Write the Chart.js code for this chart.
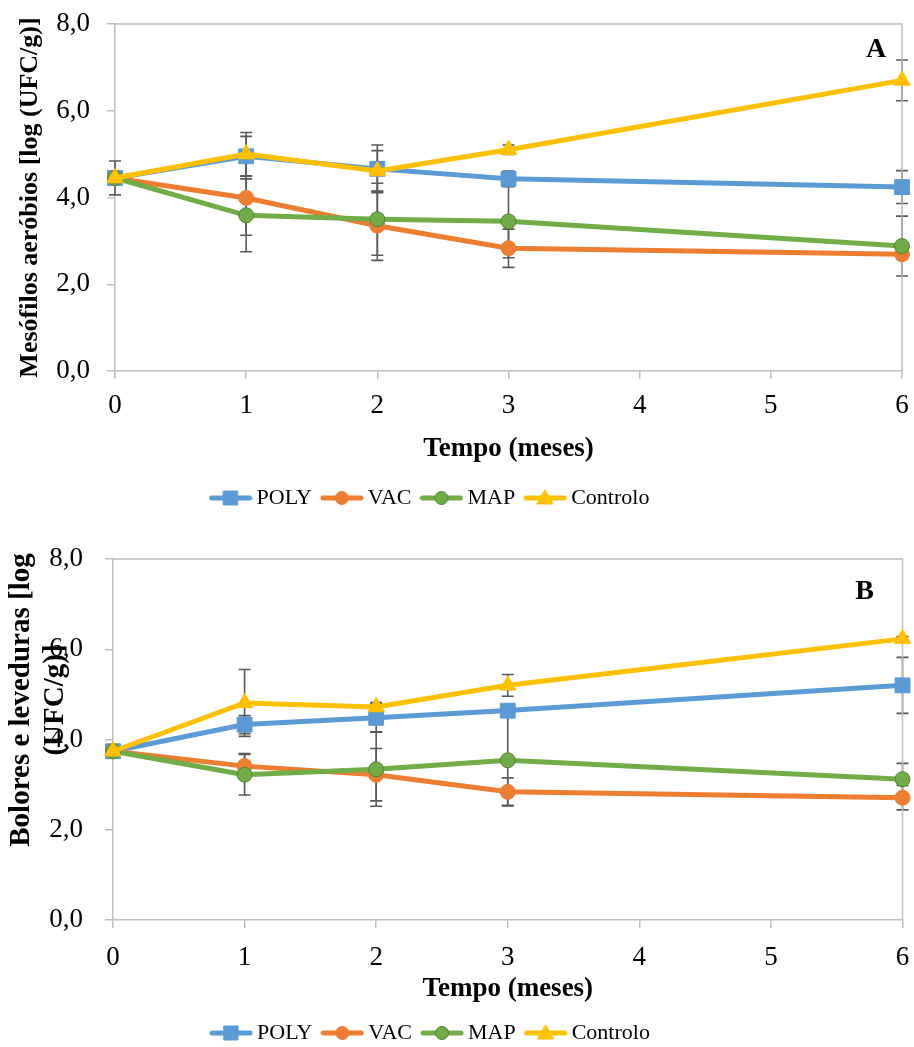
<!DOCTYPE html>
<html>
<head>
<meta charset="utf-8">
<script src="https://cdn.jsdelivr.net/npm/chart.js@4.4.0/dist/chart.umd.min.js"></script>
<style>
  html, body { margin: 0; padding: 0; background: #fff; overflow: hidden; }
  .wrap { position: relative; width: 914px; }
</style>
</head>
<body>
<div class="wrap" style="height:519px"><canvas id="chartA"></canvas></div>
<div class="wrap" style="height:535px"><canvas id="chartB"></canvas></div>
<script>
// time points (months)
const months = [0, 1, 2, 3, 6];
const seriesNames = ['POLY', 'VAC', 'MAP', 'Controlo'];
const yTicks = [0, 2, 4, 6, 8];
const yTickLabels = ['0,0', '2,0', '4,0', '6,0', '8,0'];

// A - Mesófilos aeróbios
const polyA = [4.45, 4.95, 4.66, 4.43, 4.24];
const vacA = [4.45, 3.99, 3.35, 2.83, 2.69];
const mapA = [4.45, 3.59, 3.50, 3.45, 2.88];
const controloA = [4.45, 5.00, 4.61, 5.10, 6.70];
const polyErrA = [0.39, 0.46, 0.55, 0.18, 0.38];
const vacErrA = [0, 0.86, 0.80, 0.44, 0.10];
const mapErrA = [0, 0.84, 0.83, 0.84, 0.69];
const controloErrA = [0, 0.50, 0.47, 0.11, 0.47];

// B - Bolores e leveduras
const polyB = [3.74, 4.33, 4.48, 4.64, 5.20];
const vacB = [3.74, 3.41, 3.22, 2.84, 2.71];
const mapB = [3.74, 3.22, 3.34, 3.54, 3.12];
const controloB = [3.74, 4.81, 4.72, 5.20, 6.23];
const polyErrB = [0, 0.20, 0.31, 0.10, 0.62];
const vacErrB = [0, 0.28, 0.58, 0.31, 0.27];
const mapErrB = [0, 0.45, 0.82, 1.00, 0.35];
const controloErrB = [0, 0.74, 0.10, 0.24, 0.05];

const FONT = "'Liberation Serif', 'Times New Roman', serif";
const AXIS = '#bfbfbf';
const colors = ['#5b9bd5', '#ed7d31', '#70ad47', '#ffc000'];
const borders = ['#5b9bd5', '#ed7d31', '#548235', '#ffc000'];
const shapes = ['rect', 'circle', 'circle', 'triangle'];
const radii = [10.5, 7.5, 7.5, 9.5];

function makeIcon(i) {
    const c = document.createElement('canvas');
    c.width = 44; c.height = 20;
    const g = c.getContext('2d');
    g.strokeStyle = colors[i]; g.lineWidth = 5; g.lineCap = 'round';
    g.beginPath(); g.moveTo(3, 10); g.lineTo(41, 10); g.stroke();
    g.fillStyle = colors[i];
    g.beginPath();
    if (shapes[i] === 'rect') g.rect(15, 3, 14, 14);
    else if (shapes[i] === 'circle') g.arc(22, 10, 6.5, 0, Math.PI * 2);
    else { g.moveTo(22, 2); g.lineTo(30, 16); g.lineTo(14, 16); g.closePath(); }
    g.fill();
    g.strokeStyle = borders[i]; g.lineWidth = 1; g.stroke();
    return c;
}
const icons = seriesNames.map((n, i) => makeIcon(i));

function makeDatasets(values, errors) {
    return seriesNames.map((name, i) => ({
        label: name,
        data: months.map((m, j) => ({ x: m, y: values[i][j] })),
        errors: errors[i],
        order: seriesNames.length - i,   // later series on top, like Excel
        borderColor: colors[i],
        backgroundColor: colors[i],
        pointBackgroundColor: colors[i],
        pointBorderColor: borders[i],
        pointBorderWidth: 1,
        borderWidth: 5,
        pointStyle: shapes[i],
        pointRadius: radii[i],
        pointHoverRadius: radii[i],
        tension: 0,
        clip: false
    }));
}

const errorBars = {
    id: 'errorBars',
    beforeDatasetsDraw(chart) {
        const { ctx, scales: { x, y } } = chart;
        ctx.save();
        ctx.strokeStyle = '#595959';
        ctx.lineWidth = 1.6;
        chart.data.datasets.forEach(ds => {
            ds.data.forEach((p, i) => {
                const e = ds.errors[i];
                if (!e) return;
                const px = x.getPixelForValue(p.x);
                const top = y.getPixelForValue(p.y + e);
                const bot = y.getPixelForValue(p.y - e);
                ctx.beginPath();
                ctx.moveTo(px, top); ctx.lineTo(px, bot);
                ctx.moveTo(px - 6, top); ctx.lineTo(px + 6, top);
                ctx.moveTo(px - 6, bot); ctx.lineTo(px + 6, bot);
                ctx.stroke();
            });
        });
        ctx.restore();
    }
};

const frameAndLabel = {
    id: 'frameAndLabel',
    afterLayout(chart, args, opts) {
        chart.legend.left += opts.legendShift;
        chart.legend.right += opts.legendShift;
    },
    beforeDatasetsDraw(chart) {
        const { ctx, chartArea: a } = chart;
        ctx.save();
        ctx.strokeStyle = AXIS; ctx.lineWidth = 1.5;
        ctx.beginPath();
        ctx.moveTo(a.left, a.top); ctx.lineTo(a.right, a.top); ctx.lineTo(a.right, a.bottom);
        ctx.stroke();
        ctx.restore();
    },
    afterDraw(chart, args, opts) {
        const { ctx, chartArea: a } = chart;
        ctx.save();
        ctx.fillStyle = '#000';
        ctx.font = 'bold 28px ' + FONT;
        ctx.textAlign = 'center';
        ctx.textBaseline = 'middle';
        ctx.fillText(opts.tag, a.right - opts.tagDx, a.top + opts.tagDy);
        if (opts.yTitle) {
            ctx.font = 'bold 29px ' + FONT;
            opts.yTitle.forEach((line, k) => {
                ctx.save();
                ctx.translate(opts.yTitleX[k], opts.yTitleY);
                ctx.rotate(-Math.PI / 2);
                ctx.fillText(line, 0, 0);
                ctx.restore();
            });
        }
        ctx.restore();
    }
};

function makeChart(id, values, errors, cfg) {
    return new Chart(document.getElementById(id), {
        type: 'line',
        data: { datasets: makeDatasets(values, errors) },
        plugins: [errorBars, frameAndLabel],
        options: {
            responsive: true,
            maintainAspectRatio: false,
            animation: false,
            layout: { padding: { left: 11, right: cfg.right, top: cfg.top, bottom: 0 } },
            plugins: {
                tooltip: { enabled: false },
                legend: {
                    position: 'bottom',
                    labels: {
                        usePointStyle: true,
                        pointStyleWidth: 30,
                        padding: 15,
                        color: '#000',
                        font: { family: FONT, size: 22 },
                        generateLabels: chart => chart.data.datasets.map((ds, i) => ({
                            text: ds.label,
                            pointStyle: icons[i],
                            datasetIndex: i,
                            hidden: false,
                            lineWidth: 0,
                            strokeStyle: 'transparent',
                            fillStyle: 'transparent'
                        }))
                    }
                },
                frameAndLabel: cfg.frame
            },
            scales: {
                x: {
                    type: 'linear',
                    min: 0,
                    max: 6,
                    afterFit: s => { s.height = cfg.xHeight; s.paddingLeft = 0; s.paddingRight = 0; },
                    ticks: {
                        stepSize: 1,
                        padding: cfg.xTickPad,
                        color: '#000',
                        font: { family: FONT, size: 27 }
                    },
                    grid: { drawOnChartArea: false, tickLength: 8, color: AXIS, lineWidth: 1.5 },
                    border: { color: AXIS, width: 1.5 },
                    title: {
                        display: true,
                        text: 'Tempo (meses)',
                        color: '#000',
                        font: { family: FONT, size: 27, weight: 'bold' },
                        padding: { top: 0, bottom: cfg.xTitlePad }
                    }
                },
                y: {
                    min: 0,
                    max: 8,
                    afterFit: s => { s.width = cfg.yWidth; s.paddingTop = 0; s.paddingBottom = 0; },
                    afterBuildTicks: s => { s.ticks = yTicks.map(v => ({ value: v })); },
                    ticks: {
                        padding: cfg.yTickPad,
                        color: '#000',
                        font: { family: FONT, size: 27 },
                        callback: v => yTickLabels[yTicks.indexOf(v)]
                    },
                    grid: { drawOnChartArea: false, tickLength: 8, color: AXIS, lineWidth: 1.5 },
                    border: { color: AXIS, width: 1.5 },
                    title: {
                        display: cfg.yTitle !== null,
                        text: cfg.yTitle || '',
                        color: '#000',
                        font: { family: FONT, size: 26, weight: 'bold' },
                        padding: { top: 4, bottom: 0 }
                    }
                }
            }
        }
    });
}

makeChart('chartA', [polyA, vacA, mapA, controloA], [polyErrA, vacErrA, mapErrA, controloErrA], {
    top: 24, right: 12, xHeight: 101, xTickPad: 11, xTitlePad: 7, yWidth: 104, yTickPad: 17,
    yTitle: 'Mesófilos aeróbios [log (UFC/g)]',
    frame: { tag: 'A', tagDx: 26, tagDy: 26, legendShift: -24 }
});

makeChart('chartB', [polyB, vacB, mapB, controloB], [polyErrB, vacErrB, mapErrB, controloErrB], {
    top: 40, right: 11, xHeight: 87, xTickPad: 14, xTitlePad: 2, yWidth: 102, yTickPad: 22,
    yTitle: null,
    frame: {
        tag: 'B', tagDx: 38, tagDy: 33, legendShift: -24,
        yTitle: ['Bolores e leveduras [log', '(UFC/g)]'], yTitleX: [22, 56], yTitleY: 181
    }
});
</script>
</body>
</html>
